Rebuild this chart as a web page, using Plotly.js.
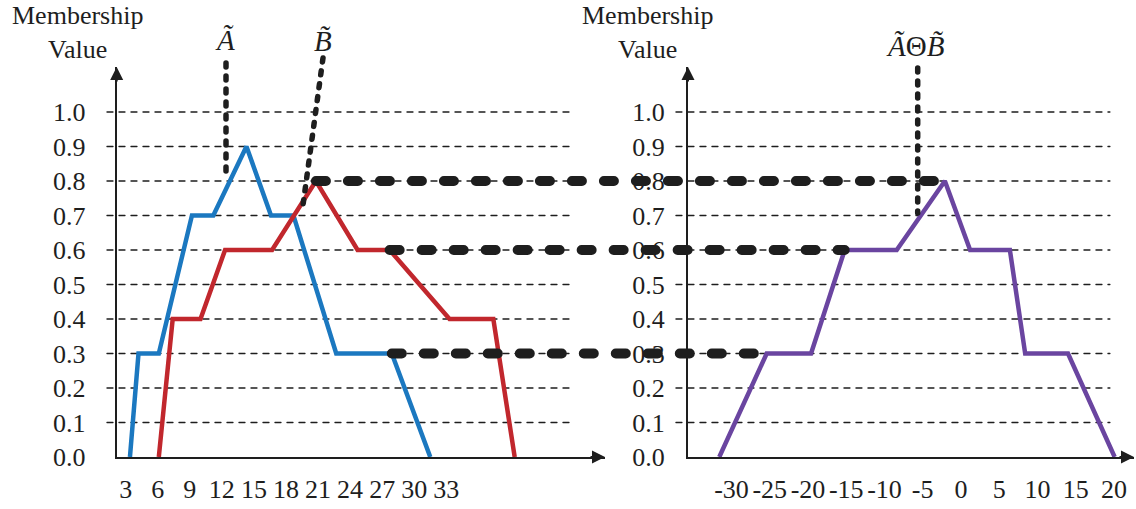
<!DOCTYPE html>
<html>
<head>
<meta charset="utf-8">
<script src="https://cdn.plot.ly/plotly-3.0.1.min.js"></script>
<style>
html, body { margin: 0; padding: 0; background: #ffffff; }
#chart { width: 1136px; height: 509px; }
.js-plotly-plot .shapelayer path { stroke-linecap: round; }
</style>
</head>
<body>
<div id="chart"></div>
<script>
// ---------------- data ----------------
const yTickValues = [0, 0.1, 0.2, 0.3, 0.4, 0.5, 0.6, 0.7, 0.8, 0.9, 1.0];
const yTickLabels = ['0.0', '0.1', '0.2', '0.3', '0.4', '0.5', '0.6', '0.7', '0.8', '0.9', '1.0'];

const leftXTicks = [3, 6, 9, 12, 15, 18, 21, 24, 27, 30, 33];
const leftXTickLabels = ['3', '6', '9', '12', '15', '18', '21', '24', '27', '30', '33'];

const rightXTicks = [-30, -25, -20, -15, -10, -5, 0, 5, 10, 15, 20];
const rightXTickLabels = ['-30', '-25', '-20', '-15', '-10', '-5', '0', '5', '10', '15', '20'];

// fuzzy number A (blue)
const xA = [3.4, 4.2, 6.1, 9.2, 11.2, 14.3, 16.6, 18.7, 22.7, 27.9, 31.5];
const yA = [0, 0.3, 0.3, 0.7, 0.7, 0.9, 0.7, 0.7, 0.3, 0.3, 0];
// fuzzy number B (red)
const xB = [6.1, 7.4, 10.0, 12.3, 16.7, 20.8, 24.7, 27.7, 33.3, 37.4, 39.4];
const yB = [0, 0.4, 0.4, 0.6, 0.6, 0.8, 0.6, 0.6, 0.4, 0.4, 0];
// A Θ B (purple)
const xD = [-31.6, -25.4, -19.6, -15.2, -8.4, -2.1, 1.2, 6.4, 8.4, 14.0, 20.1];
const yD = [0, 0.3, 0.3, 0.6, 0.6, 0.8, 0.6, 0.6, 0.3, 0.3, 0];

const yAxisTitle = 'Membership<br>Value';
const labelA = '<i>Ã</i>';
const labelB = '<i>B\u0303</i>';
const labelD = '<i>Ã</i>Θ<i>B\u0303</i>';

// ---------------- layout helpers ----------------
const W = 1136, H = 509;
const FONT = '"Liberation Serif", "DejaVu Serif", serif';
const INK = '#1e1e1e';
const px = x => x / W;
const py = y => 1 - y / H;

const xDomL = [px(116.7), px(605)], xRangeL = [2.16, 47.85];
const xDomR = [px(688), px(1134)], xRangeR = [-35.69, 22.63];
const yDom = [py(457), py(67)], yRange = [0, 1.1304];

function toPaper(dom, rng, v) {
  return dom[0] + (v - rng[0]) / (rng[1] - rng[0]) * (dom[1] - dom[0]);
}

const shapes = [];
// dashed grid lines
yTickValues.filter(v => v > 0).forEach(v => {
  shapes.push({type: 'line', xref: 'x domain', yref: 'y', x0: -0.0199, x1: 0.9263, y0: v, y1: v,
    line: {color: INK, width: 1.3, dash: '6px,6px'}, layer: 'below'});
  shapes.push({type: 'line', xref: 'x2 domain', yref: 'y2', x0: -0.027, x1: 0.946, y0: v, y1: v,
    line: {color: INK, width: 1.3, dash: '6px,6px'}, layer: 'below'});
});

// thick connectors between the two panels
function connector(xLeft, xRight, level) {
  const yp = toPaper(yDom, yRange, level);
  shapes.push({type: 'line', xref: 'paper', yref: 'paper',
    x0: toPaper(xDomL, xRangeL, xLeft), x1: toPaper(xDomR, xRangeR, xRight), y0: yp, y1: yp,
    line: {color: INK, width: 10, dash: '10px,22px'}, layer: 'above'});
}
const peakB = yB.indexOf(Math.max(...yB));
const peakD = yD.indexOf(Math.max(...yD));
connector(xB[peakB], xD[peakD], yB[peakB]);
connector(xB[yB.lastIndexOf(0.6)], xD[yD.indexOf(0.6)], 0.6);
connector(xA[yA.lastIndexOf(0.3)], xD[yD.indexOf(0.3)], 0.3);

// dotted pointer lines for the labels
function pointer(x0, y0, x1, y1) {
  shapes.push({type: 'line', xref: 'paper', yref: 'paper', x0: px(x0), y0: py(y0), x1: px(x1), y1: py(y1),
    line: {color: INK, width: 5.5, dash: '4px,9px'}, layer: 'above'});
}
pointer(226, 63, 226, 180);
pointer(323, 58, 303, 205);
pointer(917.7, 68, 917.7, 213);

const txtFont = {family: FONT, size: 26, color: INK};
const mathFont = {family: FONT, size: 29, color: INK};
function arrowHead(x, y, ax, ay) {
  return {x: x, y: y, xref: 'paper', yref: 'paper', ax: ax, ay: ay, text: '', showarrow: true,
    arrowhead: 2, arrowsize: 1.3, arrowwidth: 2, arrowcolor: INK};
}
const annotations = [
  {x: px(77), y: py(33), xref: 'paper', yref: 'paper', text: yAxisTitle, showarrow: false, font: txtFont, xanchor: 'center', yanchor: 'middle', align: 'center'},
  {x: px(647), y: py(33), xref: 'paper', yref: 'paper', text: yAxisTitle, showarrow: false, font: txtFont, xanchor: 'center', yanchor: 'middle', align: 'center'},
  {x: px(225), y: py(40), xref: 'paper', yref: 'paper', text: labelA, showarrow: false, font: mathFont, xanchor: 'center', yanchor: 'middle'},
  {x: px(323), y: py(41), xref: 'paper', yref: 'paper', text: labelB, showarrow: false, font: mathFont, xanchor: 'center', yanchor: 'middle'},
  {x: px(915), y: py(46), xref: 'paper', yref: 'paper', text: labelD, showarrow: false, font: mathFont, xanchor: 'center', yanchor: 'middle'},
  arrowHead(xDomL[1], yDom[0], -16, 0),
  arrowHead(xDomL[0], yDom[1], 0, 16),
  arrowHead(xDomR[1], yDom[0], -16, 0),
  arrowHead(xDomR[0], yDom[1], 0, 16)
];

const traces = [
  {x: xA, y: yA, xaxis: 'x', yaxis: 'y', mode: 'lines', line: {color: '#1b78c0', width: 4.5}, name: 'A'},
  {x: xB, y: yB, xaxis: 'x', yaxis: 'y', mode: 'lines', line: {color: '#c1272d', width: 4.5}, name: 'B'},
  {x: xD, y: yD, xaxis: 'x2', yaxis: 'y2', mode: 'lines', line: {color: '#6a45a0', width: 4.5}, name: 'A Θ B'}
];

const commonX = {ticks: '', showgrid: false, zeroline: false, showline: true, linecolor: INK, linewidth: 2,
  tickfont: txtFont, ticklabelstandoff: 8, fixedrange: true};
const commonY = {ticks: '', showgrid: false, zeroline: false, showline: true, linecolor: INK, linewidth: 2,
  tickfont: txtFont, fixedrange: true, tickvals: yTickValues, ticktext: yTickLabels, domain: yDom, range: yRange};

const layout = {
  width: W, height: H,
  margin: {l: 0, r: 0, t: 0, b: 0, pad: 0},
  paper_bgcolor: '#ffffff', plot_bgcolor: 'rgba(0,0,0,0)',
  showlegend: false,
  xaxis: Object.assign({}, commonX, {domain: xDomL, range: xRangeL, anchor: 'y', tickvals: leftXTicks, ticktext: leftXTickLabels}),
  yaxis: Object.assign({}, commonY, {anchor: 'x', ticklabelstandoff: 24}),
  xaxis2: Object.assign({}, commonX, {domain: xDomR, range: xRangeR, anchor: 'y2', tickvals: rightXTicks, ticktext: rightXTickLabels}),
  yaxis2: Object.assign({}, commonY, {anchor: 'x2', ticklabelstandoff: 16}),
  shapes: shapes,
  annotations: annotations
};

Plotly.newPlot('chart', traces, layout, {displayModeBar: false, staticPlot: true});
</script>
</body>
</html>
